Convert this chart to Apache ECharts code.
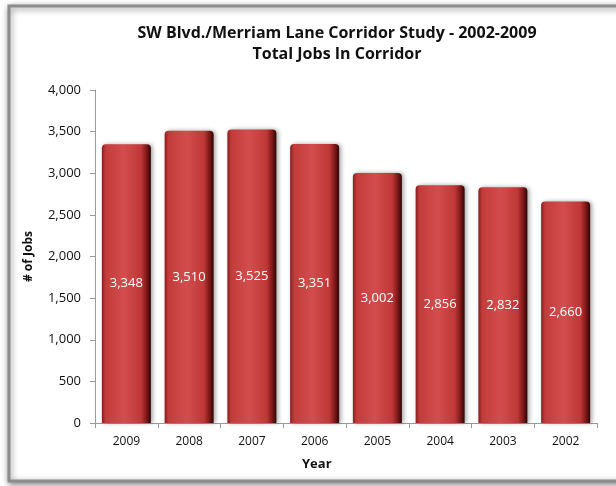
<!DOCTYPE html>
<html>
<head>
<meta charset="utf-8">
<script src="https://cdn.jsdelivr.net/npm/echarts@6/dist/echarts.min.js"></script>
</head>
<body style="margin:0;background:#fff">
<div id="main" style="width:616px;height:486px"></div>
<script>
var years = ['2009', '2008', '2007', '2006', '2005', '2004', '2003', '2002'];
var jobs = [3348, 3510, 3525, 3351, 3002, 2856, 2832, 2660];
var yTicks = [0, 500, 1000, 1500, 2000, 2500, 3000, 3500, 4000];

var chart = echarts.init(document.getElementById('main'));
var font = '"Open Sans", sans-serif';

function fmt(v) {
  return Number(v).toLocaleString('en-US');
}

var barColor = new echarts.graphic.LinearGradient(0, 0, 1, 0, [
  { offset: 0, color: '#8a1e1e' },
  { offset: 0.08, color: '#c23c3c' },
  { offset: 0.45, color: '#d24d4d' },
  { offset: 0.8, color: '#bf3838' },
  { offset: 0.92, color: '#7a1616' },
  { offset: 1, color: '#2a0606' }
]);

var option = {
  backgroundColor: '#fff',
  animation: false,
  graphic: [
    {
      type: 'rect',
      shape: { x: 9, y: 6, width: 640, height: 475 },
      style: { fill: '#fff', stroke: '#8c8c8c', lineWidth: 3, shadowBlur: 6, shadowColor: 'rgba(0,0,0,0.45)', shadowOffsetX: 1, shadowOffsetY: 2 },
      z: -10
    },
    {
      type: 'text',
      left: 318 - 16,
      top: 458,
      style: { text: 'Year', font: 'bold 13px ' + font, fill: '#111' }
    }
  ],
  title: {
    text: 'SW Blvd./Merriam Lane Corridor Study - 2002-2009\nTotal Jobs In Corridor',
    left: 332,
    textAlign: 'center',
    top: 18,
    textStyle: { fontFamily: font, fontWeight: 'bold', fontSize: 16, lineHeight: 21, color: '#111' }
  },
  grid: { left: 95, right: 19, top: 90, bottom: 63 },
  xAxis: {
    type: 'category',
    data: years,
    axisLine: { lineStyle: { color: '#9a9a9a' } },
    axisTick: { show: true, lineStyle: { color: '#9a9a9a' }, length: 5 },
    axisLabel: { fontFamily: font, fontSize: 12, color: '#111', margin: 13 }
  },
  yAxis: {
    type: 'value',
    min: 0,
    max: 4000,
    interval: 500,
    name: '# of Jobs',
    nameLocation: 'middle',
    nameRotate: 90,
    nameGap: 60,
    nameTextStyle: { fontFamily: font, fontWeight: 'bold', fontSize: 12, color: '#111' },
    splitLine: { show: false },
    axisLine: { show: true, lineStyle: { color: '#9a9a9a' } },
    axisTick: { show: true, lineStyle: { color: '#9a9a9a' }, length: 5 },
    axisLabel: { fontFamily: font, fontSize: 13, color: '#111', margin: 14, formatter: fmt }
  },
  series: [{
    type: 'bar',
    data: jobs,
    barWidth: 49,
    itemStyle: {
      color: barColor,
      borderRadius: [4, 4, 0, 0],
      shadowBlur: 4,
      shadowColor: 'rgba(0,0,0,0.35)',
      shadowOffsetX: 2
    },
    label: {
      show: true,
      position: 'inside',
      color: '#fff',
      fontFamily: font,
      fontSize: 13,
      formatter: function (p) { return fmt(p.value); }
    }
  }]
};
chart.setOption(option);
</script>
</body>
</html>
